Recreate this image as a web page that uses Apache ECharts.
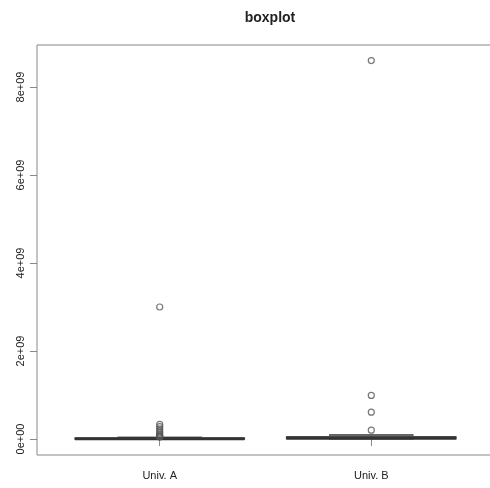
<!DOCTYPE html>
<html>
<head>
<meta charset="utf-8">
<script src="https://cdn.jsdelivr.net/npm/echarts@6/dist/echarts.min.js"></script>
<style>
html,body{margin:0;padding:0;background:#fff;}
#chart{width:490px;height:488px;}
</style>
</head>
<body>
<div id="chart"></div>
<script>
// ---- data ----
const categories = ['Univ. A', 'Univ. B'];
const catPositions = [1, 2];
// box statistics: [lower whisker, Q1, median, Q3, upper whisker]
const boxStatsA = [0, 0.002e9, 0.008e9, 0.016e9, 0.035e9];
const boxStatsB = [0, 0.008e9, 0.022e9, 0.045e9, 0.09e9];
const outliersA = [3.0e9, 0.33e9, 0.28e9, 0.23e9, 0.18e9, 0.14e9, 0.1e9, 0.075e9, 0.055e9, 0.045e9];
const outliersB = [8.6e9, 0.99e9, 0.61e9, 0.2e9];
const yTickValues = [0, 2e9, 4e9, 6e9, 8e9];
const yTickLabels = ['0e+00', '2e+09', '4e+09', '6e+09', '8e+09'];

const boxData = [
  [catPositions[0]].concat(boxStatsA),
  [catPositions[1]].concat(boxStatsB)
];
const outlierData = []
  .concat(outliersA.map(v => [catPositions[0], v]))
  .concat(outliersB.map(v => [catPositions[1], v]));

const chart = echarts.init(document.getElementById('chart'), null, {renderer: 'canvas'});
const lineCol = '#333';
const frameCol = '#888';

function renderBox(params, api) {
  const x = api.value(0);
  const lo = api.value(1), q1 = api.value(2), med = api.value(3), q3 = api.value(4), hi = api.value(5);
  const boxW = api.size([0.8, 0])[0];
  const hw = boxW / 2, sw = hw / 2;
  const c = api.coord([x, med])[0];
  const yLo = api.coord([x, lo])[1], yQ1 = api.coord([x, q1])[1], yMed = api.coord([x, med])[1];
  const yQ3 = api.coord([x, q3])[1], yHi = api.coord([x, hi])[1];
  const st = {stroke: lineCol, lineWidth: 1, fill: null};
  return {
    type: 'group',
    children: [
      {type: 'line', shape: {x1: c, y1: yQ3, x2: c, y2: yHi}, style: Object.assign({}, st, {lineDash: [4, 3]})},
      {type: 'line', shape: {x1: c, y1: yQ1, x2: c, y2: yLo}, style: Object.assign({}, st, {lineDash: [4, 3]})},
      {type: 'line', shape: {x1: c - sw, y1: yHi, x2: c + sw, y2: yHi}, style: Object.assign({}, st, {stroke: '#666', lineWidth: 2})},
      {type: 'line', shape: {x1: c - sw, y1: yLo, x2: c + sw, y2: yLo}, style: st},
      {type: 'rect', shape: {x: c - hw, y: Math.min(yQ1, yQ3), width: boxW, height: Math.max(Math.abs(yQ1 - yQ3), 0.5)}, style: {stroke: lineCol, lineWidth: 1.5, fill: '#fff'}},
      {type: 'line', shape: {x1: c - hw, y1: yMed, x2: c + hw, y2: yMed}, style: {stroke: lineCol, lineWidth: 3}}
    ]
  };
}

const option = {
  animation: false,
  backgroundColor: '#fff',
  title: {
    text: 'boxplot',
    left: 265, top: 6, textAlign: 'center',
    textStyle: {fontFamily: 'Liberation Sans', fontSize: 14, fontWeight: 'bold', color: '#222'}
  },
  grid: {
    left: 37, top: 45, width: 457, height: 410,
    outerBoundsMode: 'none', containLabel: false,
    show: true, borderColor: frameCol, borderWidth: 1, backgroundColor: 'transparent'
  },
  xAxis: {
    type: 'value', min: 0.42, max: 2.58,
    splitLine: {show: false},
    axisLine: {show: false},
    axisTick: {show: true, customValues: catPositions, length: 7, lineStyle: {color: frameCol}},
    axisLabel: {
      customValues: catPositions, margin: 15,
      fontFamily: 'Liberation Sans', fontSize: 11, color: '#222',
      formatter: v => categories[catPositions.indexOf(Math.round(v))] || ''
    }
  },
  yAxis: {
    type: 'value', min: -0.364e9, max: 8.955e9,
    splitLine: {show: false},
    axisLine: {show: false},
    axisTick: {show: true, customValues: yTickValues, length: 7, lineStyle: {color: frameCol}},
    axisLabel: {
      customValues: yTickValues, rotate: 90, margin: 11,
      fontFamily: 'Liberation Sans', fontSize: 11, color: '#222',
      formatter: v => {
        const i = yTickValues.indexOf(v);
        return i >= 0 ? yTickLabels[i] : '';
      }
    }
  },
  series: [
    {
      type: 'custom',
      renderItem: renderBox,
      encode: {x: 0, y: [1, 2, 3, 4, 5]},
      data: boxData,
      z: 2
    },
    {
      type: 'scatter',
      data: outlierData,
      symbol: 'circle',
      symbolSize: 6,
      itemStyle: {color: 'rgba(255,255,255,0)', borderColor: '#555', borderWidth: 1.2},
      z: 3
    }
  ]
};
chart.setOption(option);
</script>
</body>
</html>
